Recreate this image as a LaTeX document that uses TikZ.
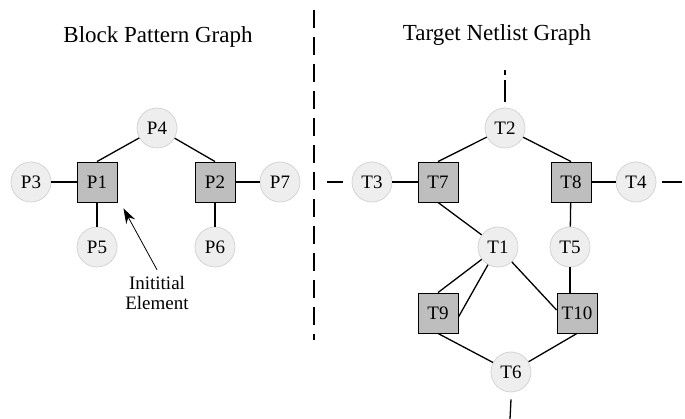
\documentclass[tikz,border=0pt]{standalone}
\usepackage{fontspec}
\setmainfont{Liberation Serif}
\usetikzlibrary{arrows.meta}
\definecolor{pinfill}{RGB}{238,238,238}
\definecolor{pinring}{RGB}{212,212,212}
\definecolor{blkfill}{RGB}{190,190,190}

\begin{document}
\begin{tikzpicture}[x=1pt,y=-1pt,
  pin/.style={circle,draw=pinring,fill=pinfill,line width=0.8pt,minimum size=40pt,inner sep=0pt,font=\fontsize{19}{22}\selectfont},
  blk/.style={rectangle,draw=black,fill=blkfill,line width=0.9pt,minimum size=40pt,inner sep=0pt,font=\fontsize{19}{22}\selectfont},
  edge/.style={line width=1.3pt},
  ttl/.style={font=\fontsize{23}{27}\selectfont}]
\useasboundingbox (0,0) rectangle (685,419);

\node[ttl] (btitle) at (158,37) {Block Pattern Graph};
\node[ttl] (ttitle) at (497,35) {Target Netlist Graph};

\draw[line width=1.1pt,dash pattern=on 18pt off 9pt] (314,10) -- (314,340);

% block pattern
\node[blk] (P1) at (97,182) {P1};
\node[blk] (P2) at (215,182) {P2};
\foreach \n/\x/\y in {3/31/182, 4/157/128, 5/97/247, 6/215/247, 7/280/182}
  \node[pin] (P\n) at (\x,\y) {P\n};

\draw[edge] (P4) -- (P1.north);
\draw[edge] (P4) -- (P2.north);
\foreach \a/\b in {P3/P1, P1/P5, P2/P6, P2/P7}
  \draw[edge] (\a) -- (\b);

\node[font=\fontsize{19}{20}\selectfont,align=center] (init) at (157,293) {Inititial\\Element};
\draw[-{Stealth[length=15pt,width=10pt]},line width=0.8pt] ([yshift=3pt]init.north) -- ([shift={(6pt,-6pt)}]P1.south east);

% target netlist
\node[blk] (T7) at (438,182) {T7};
\node[blk] (T8) at (571,182) {T8};
\node[blk] (T9) at (438,313) {T9};
\node[blk] (T10) at (577,313) {T10};
\foreach \n/\x/\y in {1/498/247, 2/505/128, 3/372/182, 4/636/182, 5/570/247, 6/511/372}
  \node[pin] (T\n) at (\x,\y) {T\n};

\draw[edge] (T2) -- (T7.north);
\draw[edge] (T2) -- (T8.north);
\draw[edge] (T7.south) -- (T1);
\draw[edge] (T1) -- (T9.north);
\draw[edge] (T1) -- ([yshift=-4pt]T9.east);
\draw[edge] (T1) -- ([yshift=3pt]T10.west);
\draw[edge] (T5) -- (T5 |- T10.north);
\draw[edge] (T9.south) -- (T6);
\draw[edge] (T10.south) -- (T6);
\foreach \a/\b in {T3/T7, T8/T4, T8/T5}
  \draw[edge] (\a) -- (\b);

\coordinate (t3out) at (327,182);
\coordinate (t4out) at (682,182);
\coordinate (t2out) at (505,70);
\coordinate (t6out) at (510,419);
\draw[edge] (t3out) -- ([xshift=-9pt]T3.west);
\draw[edge] ([xshift=6pt]T4.east) -- (t4out);
\draw[edge,dash pattern=on 5pt off 5pt on 22pt off 5pt] (t2out) -- ([yshift=6pt]T2.north);
\draw[edge] ([yshift=-7pt]T6.south) -- (t6out);
\end{tikzpicture}
\end{document}
